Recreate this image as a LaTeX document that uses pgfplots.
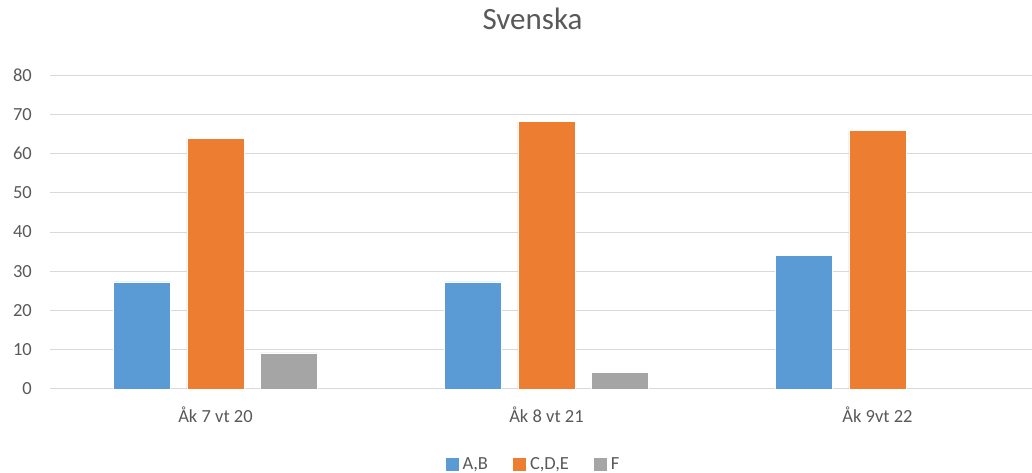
\documentclass[border=0pt]{standalone}
\usepackage{fontspec}
\setmainfont{Carlito}
\usepackage{pgfplots}
\pgfplotsset{compat=1.18}
\definecolor{cblue}{HTML}{5B9BD5}
\definecolor{corange}{HTML}{ED7D31}
\definecolor{cgrey}{HTML}{A5A5A5}
\definecolor{gridc}{HTML}{D9D9D9}
\definecolor{txt}{HTML}{595959}
\begin{document}
\begin{tikzpicture}
\useasboundingbox (-50pt,-84pt) rectangle (982pt,389pt);
\begin{axis}[
    scale only axis, width=982pt, height=314pt,
    xmin=-0.5, xmax=2.467, ymin=0, ymax=80,
    ybar=16.3pt, bar width=57pt,
    xtick={0,1,2},
    xticklabels={Åk 7 vt 20, Åk 8 vt 21, Åk 9vt 22},
    ytick={0,10,...,80},
    major tick length=0pt,
    axis x line*=bottom, axis y line*=left,
    x axis line style={draw=gridc, line width=1pt, -},
    y axis line style={draw=none},
    ymajorgrids, grid style={draw=gridc, line width=1pt},
    /pgf/number format/assume math mode=true,
    ticklabel style={font=\fontsize{18.5}{22}\selectfont, text=txt, inner sep=0pt},
    yticklabel style={anchor=east, xshift=-18pt},
    xticklabel style={anchor=base, yshift=-34pt},
    title={Svenska},
    title style={at={(482.5/982,354/314)}, anchor=base, inner sep=0pt,
        font=\fontsize{31}{36}\selectfont, text=txt},
    legend columns=3,
    legend style={draw=none, fill=none, at={(482.5/982,-81/314)}, anchor=base,
        inner sep=0pt, text=txt,
        nodes={font=\fontsize{18.5}{22}\selectfont, inner sep=0pt, anchor=base},
        /tikz/every odd column/.append style={column sep=4pt},
        /tikz/every even column/.append style={column sep=25pt}},
    legend image code/.code={\fill[#1,draw=none] (0pt,-1pt) rectangle (13pt,12pt);},
]
\addplot[fill=cblue, draw=white, line width=0.5pt]
    coordinates {(0,27.3) (1,27.3) (2,34.1)};
\addplot[fill=corange, draw=white, line width=0.5pt]
    coordinates {(0,63.9) (1,68.1) (2,65.8)};
\addplot[fill=cgrey, draw=white, line width=0.5pt]
    coordinates {(0,9.2) (1,4.3)};
\legend{{A,B}, {C,D,E}, F}
\end{axis}
\end{tikzpicture}
\end{document}
